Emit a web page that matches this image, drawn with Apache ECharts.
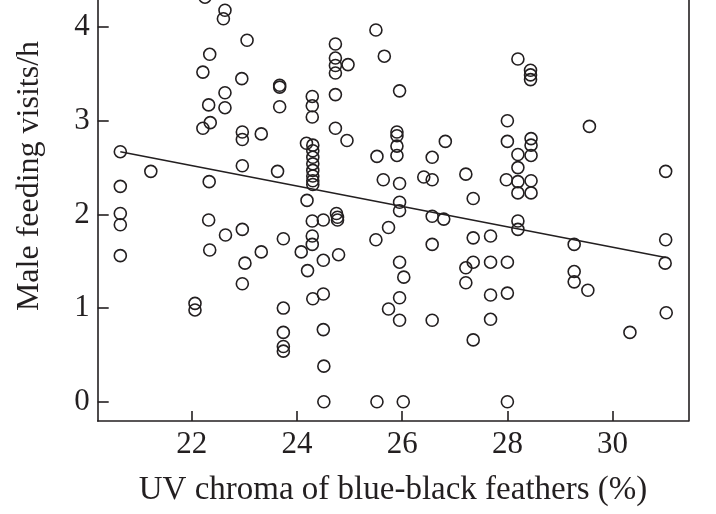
<!DOCTYPE html>
<html>
<head>
<meta charset="utf-8">
<script src="https://cdn.jsdelivr.net/npm/echarts@6/dist/echarts.min.js"></script>
<style>
html,body{margin:0;padding:0;background:#fff;}
#chart{width:716px;height:514px;}
</style>
</head>
<body>
<div id="chart"></div>
<script>
// UV chroma of blue-black feathers (%)
const uvChroma = [
  20.64,20.64,20.64,20.64,20.64,21.22,22.06,22.06,22.21,22.21,22.25,22.32,22.32,22.33,22.34,22.35,22.34,
  22.60,22.63,22.63,22.63,22.64,22.95,22.96,22.96,22.96,22.96,22.96,23.01,23.05,23.32,23.32,23.63,
  23.67,23.67,23.67,23.74,23.74,23.74,23.74,23.74,24.08,24.18,24.19,24.20,
  24.29,24.29,24.29,24.30,24.30,24.30,24.30,24.30,24.30,24.30,24.30,24.29,24.29,24.29,24.30,
  24.50,24.50,24.50,24.50,24.51,24.51,24.73,24.73,24.73,24.73,24.73,24.73,24.75,24.77,24.77,24.79,
  24.95,24.97,25.50,25.50,25.52,25.52,25.64,25.66,25.74,25.74,25.90,25.90,25.90,25.90,
  25.95,25.95,25.95,25.95,25.95,25.95,25.95,26.02,26.03,26.41,26.57,26.57,26.57,26.57,26.57,
  26.79,26.82,27.21,27.21,27.21,27.35,27.35,27.35,27.35,27.68,27.68,27.68,27.68,
  27.98,28.00,28.00,28.00,28.00,28.00,28.20,28.20,28.20,28.20,28.20,28.20,28.20,
  28.44,28.44,28.44,28.45,28.45,28.45,28.45,28.45,29.27,29.27,29.27,29.53,29.56,30.33,
  31.01,31.01,31.00,31.02
];
// Male feeding visits/h
const visits = [
  2.67,2.30,2.01,1.89,1.56,2.46,1.05,0.98,3.52,2.92,4.32,3.17,1.94,2.35,3.71,2.98,1.62,
  4.09,4.18,3.30,3.14,1.78,3.45,2.88,2.80,2.52,1.84,1.26,1.48,3.86,2.86,1.60,2.46,
  3.38,3.36,3.15,1.74,1.00,0.74,0.59,0.54,1.60,2.76,2.15,1.40,
  3.26,3.16,3.04,2.74,2.68,2.61,2.54,2.47,2.41,2.36,2.32,1.93,1.77,1.68,1.10,
  1.94,1.51,1.15,0.77,0.38,0.00,3.82,3.67,3.59,3.51,3.28,2.92,2.01,1.97,1.94,1.57,
  2.79,3.60,3.97,1.73,2.62,0.00,2.37,3.69,1.86,0.99,2.88,2.84,2.73,2.63,
  3.32,2.33,2.13,2.04,1.49,1.11,0.87,0.00,1.33,2.40,2.61,2.37,1.98,1.68,0.87,
  1.95,2.78,2.43,1.43,1.27,2.17,1.75,1.49,0.66,1.77,1.49,1.14,0.88,
  2.37,3.00,2.78,1.49,1.16,0.00,3.66,2.64,2.50,2.35,2.23,1.93,1.84,
  3.54,3.49,3.44,2.81,2.74,2.63,2.36,2.23,1.68,1.39,1.28,1.19,2.94,0.74,
  2.46,1.73,1.48,0.95
];
// Regression line end points
const fitX = [20.64, 31.01];
const fitY = [2.67, 1.54];
// Tick labels
const xTicks = [22, 24, 26, 28, 30];
const yTicks = [0, 1, 2, 3, 4];

const FONT = '"Liberation Serif", "DejaVu Serif", serif';
const INK = '#231f20';

const chart = echarts.init(document.getElementById('chart'), null, {renderer: 'canvas'});
chart.setOption({
  animation: false,
  backgroundColor: '#ffffff',
  grid: {left: 97.7, right: 27.7, top: 0, bottom: 93},
  xAxis: {
    type: 'value', min: 20.21, max: 31.44,
    name: 'UV chroma of blue-black feathers (%)',
    nameLocation: 'middle', nameGap: 53,
    nameTextStyle: {fontFamily: FONT, fontSize: 33, color: INK},
    axisLine: {onZero: false, lineStyle: {color: INK, width: 1.6}},
    axisTick: {inside: true, length: 10, customValues: xTicks, lineStyle: {color: INK, width: 1.6}},
    axisLabel: {customValues: xTicks, fontFamily: FONT, fontSize: 31, color: INK, margin: 8},
    splitLine: {show: false}
  },
  yAxis: [{
    type: 'value', min: -0.206, max: 4.29,
    axisLine: {show: true, onZero: false, lineStyle: {color: INK, width: 1.6}},
    axisTick: {show: true, inside: true, length: 11, customValues: yTicks, lineStyle: {color: INK, width: 1.6}},
    axisLabel: {customValues: yTicks, fontFamily: FONT, fontSize: 31, color: INK, margin: 8},
    splitLine: {show: false}
  }, {
    type: 'value', min: -0.206, max: 4.29, position: 'right',
    axisLine: {show: true, onZero: false, lineStyle: {color: INK, width: 1.6}},
    axisTick: {show: false}, axisLabel: {show: false}, splitLine: {show: false}
  }],
  graphic: [{
    type: 'text', x: 30, y: 176, rotation: Math.PI / 2,
    style: {text: 'Male feeding visits/h', font: '32px "Liberation Serif", serif', fill: INK,
            textAlign: 'center', textVerticalAlign: 'middle'}
  }],
  series: [{
    type: 'scatter',
    clip: false,
    symbol: 'circle', symbolSize: 12,
    itemStyle: {color: 'rgba(0,0,0,0)', borderColor: INK, borderWidth: 1.6, opacity: 1},
    data: uvChroma.map((x, i) => [x, visits[i]])
  }, {
    type: 'line',
    symbol: 'none',
    lineStyle: {color: INK, width: 1.6},
    data: fitX.map((x, i) => [x, fitY[i]])
  }]
});
</script>
</body>
</html>
